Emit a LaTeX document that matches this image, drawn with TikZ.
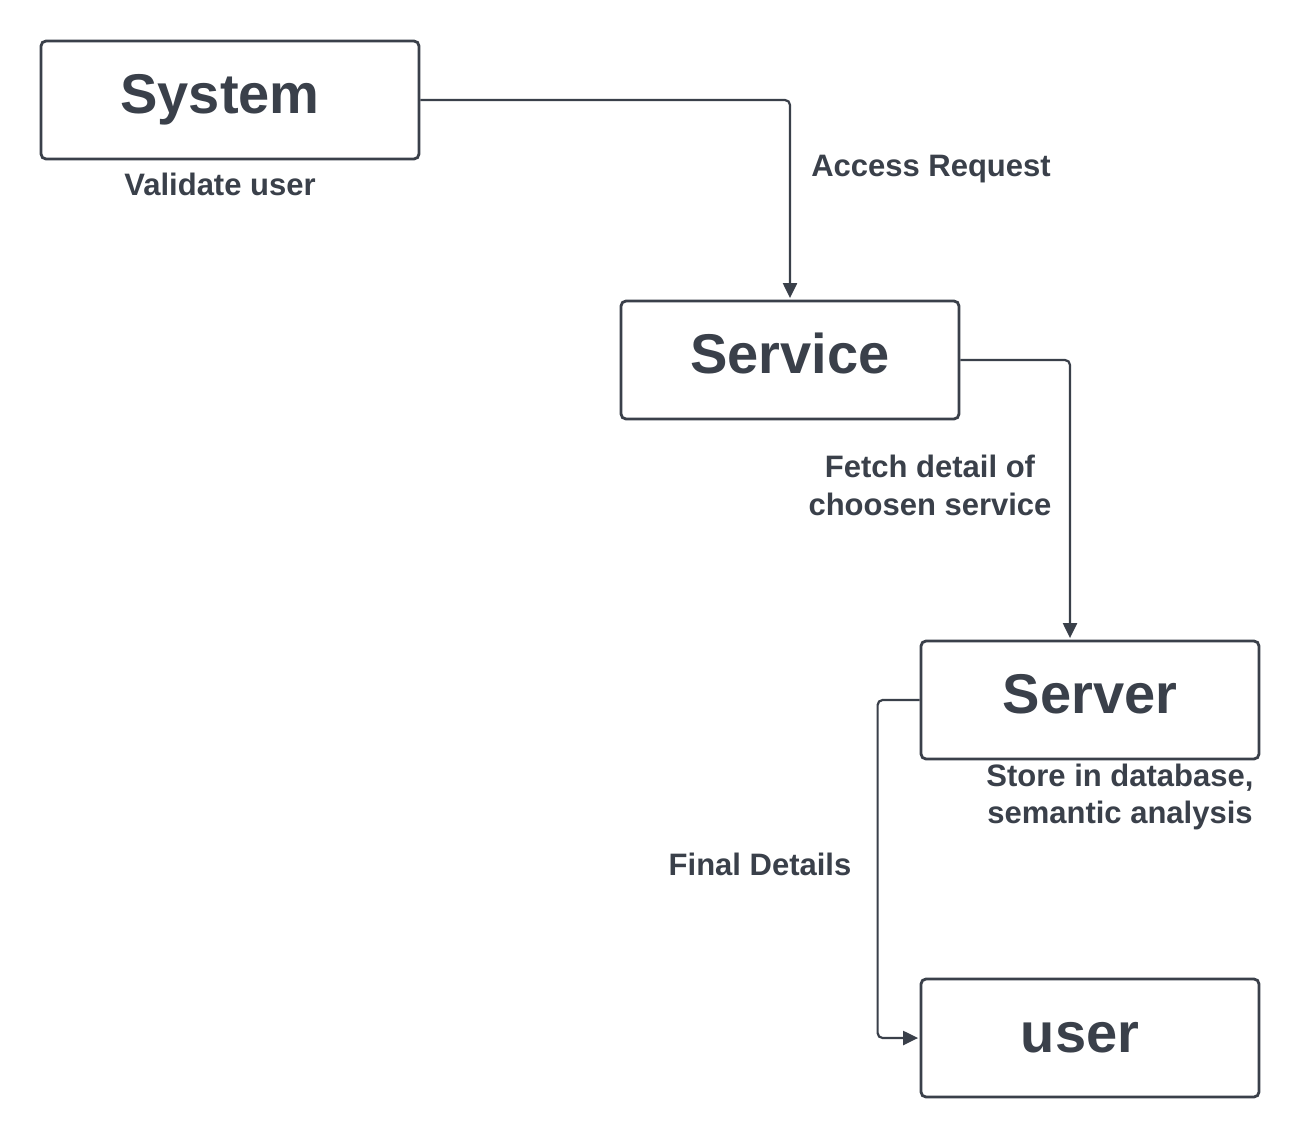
\documentclass[tikz,border=0pt]{standalone}
\usepackage{fontspec}
\setmainfont{Liberation Sans}
\usetikzlibrary{arrows.meta}
\definecolor{ink}{RGB}{58,64,74}
\begin{document}
\begin{tikzpicture}[x=1pt,y=-1pt,
  box/.style={draw=ink,line width=2.8pt,rounded corners=5pt,minimum width=378pt,minimum height=118pt,inner sep=0pt,fill=white},
  sbox/.style={box,minimum width=338pt},
  title/.style={anchor=base,text=ink,font=\bfseries\fontsize{56}{60}\selectfont,inner sep=0pt},
  lbl/.style={anchor=base,text=ink,font=\bfseries\fontsize{31}{37.5}\selectfont,inner sep=0pt},
  conn/.style={draw=ink,line width=2.2pt,rounded corners=5pt,-{Triangle[length=15pt,width=14pt]},shorten >=1.5pt}]
\useasboundingbox (0,0) rectangle (1310,1138);
\fill[white] (0,0) rectangle (1310,1138);
\node[box] (sys) at (230,100) {};
\node[sbox] (svc) at (790,360) {};
\node[sbox] (srv) at (1090,700) {};
\node[sbox] (usr) at (1090,1038) {};
\node[title] (tsys) at (220,113) {System};
\node[title] (tsvc) at (790,373) {Service};
\node[title] (tsrv) at (1090,713) {Server};
\node[title] (tusr) at (1080,1052) {user};
\node[lbl] (lval) at (220,195) {Validate user};
\node[lbl] (lacc) at (931,176) {Access Request};
\node[lbl] (lfetcha) at (930,477) {Fetch detail of};
\node[lbl] (lfetchb) at (930,515) {choosen service};
\node[lbl] (lstorea) at (1120,786) {Store in database,};
\node[lbl] (lstoreb) at (1120,823) {semantic analysis};
\node[lbl] (lfin) at (760,875) {Final Details};
\draw[conn] (sys.east) -| (svc.north);
\draw[conn] (svc.east) -| ([xshift=-20pt]srv.north);
\draw[conn] (srv.west) -- ++(-42,0) |- (usr.west);
\end{tikzpicture}
\end{document}
